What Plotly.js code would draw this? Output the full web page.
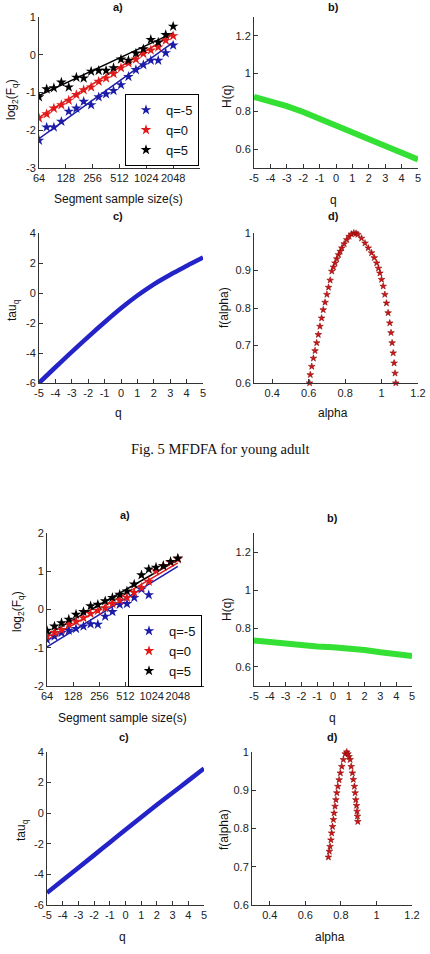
<!DOCTYPE html>
<html><head><meta charset="utf-8">
<script src="https://cdn.plot.ly/plotly-3.0.1.min.js"></script>
<style>html,body{margin:0;padding:0;background:#fff;}#chart{width:430px;height:954px;}</style>
</head><body><div id="chart"></div>
<script>
// ---------- data ----------
const segSizes = [64,78,94,114,138,168,203,246,299,362,439,532,645,782,948,1149,1393,1689,2048];
const segTickVals = [64,128,256,512,1024,2048];
const segTickText = ["64","128","256","512","1024","2048"];
const legendNames = ["q=-5","q=0","q=5"];
const qTickVals = [-5,-4,-3,-2,-1,0,1,2,3,4,5];
const qTickText = ["-5","-4","-3","-2","-1","0","1","2","3","4","5"];
const tauTickVals = [-6,-4,-2,0,2,4];
const tauTickText = ["-6","-4","-2","0","2","4"];
const logF1TickVals = [-3,-2,-1,0,1];
const logF1TickText = ["-3","-2","-1","0","1"];
const logF2TickVals = [-2,-1,0,1,2];
const logF2TickText = ["-2","-1","0","1","2"];

// Fig 5 (young adult) panel a: log2(Fq)
const a1_qm5 = [-2.27,-1.92,-1.92,-1.77,-1.50,-1.42,-1.24,-1.33,-1.12,-1.04,-0.95,-0.80,-0.58,-0.40,-0.27,-0.15,-0.15,0.05,0.25];
const a1_q0  = [-1.68,-1.57,-1.42,-1.33,-1.21,-1.06,-0.93,-0.86,-0.71,-0.62,-0.50,-0.35,-0.22,-0.12,0.03,0.12,0.20,0.38,0.50];
const a1_q5  = [-1.12,-0.91,-0.88,-0.73,-0.86,-0.60,-0.62,-0.44,-0.42,-0.42,-0.35,-0.12,-0.15,0.04,0.15,0.40,0.33,0.53,0.75];
const fitScale = [64,2048];
const a1_fit_qm5 = [-2.22,0.33];
const a1_fit_q0  = [-1.66,0.55];
const a1_fit_q5  = [-1.08,0.58];

// panel b: H(q)
const qVals = [-5,-4,-3,-2,-1,0,1,2,3,4,5];
const b1_H = [0.877,0.855,0.828,0.797,0.761,0.726,0.689,0.648,0.610,0.575,0.545];
// panel c: tau(q)
const c1_tau = [-6.0,-4.95,-3.92,-2.92,-1.95,-1.02,-0.17,0.58,1.22,1.80,2.36];
// panel d: f(alpha)
const d1_alpha = [0.605,0.609,0.617,0.626,0.635,0.644,0.653,0.662,0.671,0.680,0.690,0.700,0.709,0.718,0.727,0.736,0.745,0.754,0.764,0.773,0.782,0.795,0.809,0.822,0.835,0.848,0.860,0.870,0.890,0.909,0.927,0.945,0.960,0.973,0.983,0.991,1.000,1.009,1.018,1.027,1.036,1.045,1.052,1.058,1.064,1.069,1.074,1.078];
const d1_f     = [0.600,0.622,0.644,0.666,0.686,0.707,0.729,0.751,0.773,0.795,0.815,0.836,0.855,0.874,0.898,0.909,0.920,0.931,0.942,0.951,0.960,0.971,0.982,0.991,0.997,1.000,0.999,0.996,0.986,0.973,0.960,0.947,0.934,0.920,0.906,0.893,0.876,0.858,0.836,0.813,0.787,0.760,0.734,0.707,0.680,0.653,0.626,0.600];

// second figure panel a
const a2_qm5 = [-0.79,-0.70,-0.61,-0.55,-0.50,-0.44,-0.38,-0.39,-0.18,-0.06,0.13,0.15,0.31,0.53,0.38];
const a2_q0  = [-0.70,-0.61,-0.53,-0.39,-0.31,-0.22,-0.11,-0.03,0.04,0.15,0.24,0.31,0.44,0.57,0.73,1.01,1.14,1.23,1.32];
const a2_q5  = [-0.55,-0.44,-0.35,-0.26,-0.13,-0.06,0.09,0.13,0.22,0.31,0.39,0.48,0.66,0.90,1.05,1.10,1.14,1.25,1.34];
const a2_fit_qm5 = [-0.98,1.13];
const a2_fit_q0  = [-0.80,1.22];
const a2_fit_q5  = [-0.66,1.30];
const b2_H = [0.738,0.729,0.720,0.712,0.706,0.703,0.699,0.688,0.676,0.664,0.657];
const c2_tau = [-5.2,-4.38,-3.56,-2.74,-1.91,-1.08,-0.26,0.55,1.34,2.13,2.92];
const d2_alpha = [0.730,0.735,0.739,0.744,0.748,0.753,0.758,0.762,0.767,0.772,0.777,0.783,0.790,0.797,0.805,0.814,0.824,0.833,0.840,0.846,0.852,0.858,0.865,0.870,0.876,0.880,0.884,0.888,0.891,0.893,0.895];
const d2_f     = [0.725,0.740,0.753,0.770,0.788,0.805,0.823,0.840,0.858,0.875,0.893,0.910,0.927,0.945,0.962,0.980,0.995,1.000,0.995,0.988,0.980,0.962,0.945,0.928,0.910,0.893,0.875,0.860,0.845,0.832,0.818];

// ---------- layout helpers ----------
const W = 430, H = 954;
const dx = (a,b) => [a/W, b/W];
const dy = (t,b) => [1-b/H, 1-t/H];
const FONT = "Liberation Sans, Arial, sans-serif";
const BLUE = "#1c1ca8", RED = "#e01a1a", BLACK = "#000000";
const GREEN = "#33e033", TAUBLUE = "#2323c8", FRED = "#d21414";

function axisBase(extra){
  return Object.assign({
    showline:true, linecolor:"#333", linewidth:1, mirror:false,
    ticks:"inside", ticklen:4, tickcolor:"#333", tickwidth:1,
    showgrid:false, zeroline:false, fixedrange:true, tickangle:0,
    tickfont:{family:FONT, size:11, color:"#222"}
  }, extra);
}

const traces = [];
function fPanel(xa, ya, qm5, q0, q5, fm5, f0, f5, legendId){
  const sets = [[qm5,fm5,BLUE],[q0,f0,RED],[q5,f5,BLACK]];
  sets.forEach((s)=>{
    traces.push({x:fitScale, y:s[1], xaxis:xa, yaxis:ya, mode:"lines",
      line:{color:s[2], width:1.5}, showlegend:false, hoverinfo:"skip"});
  });
  sets.forEach((s,i)=>{
    traces.push({x:segSizes.slice(0,s[0].length), y:s[0], xaxis:xa, yaxis:ya, mode:"markers",
      name:legendNames[i], legend:legendId,
      marker:{symbol:"star", size:8, color:s[2], line:{width:0}}});
  });
}
fPanel("x","y",a1_qm5,a1_q0,a1_q5,a1_fit_qm5,a1_fit_q0,a1_fit_q5,"legend");
fPanel("x5","y5",a2_qm5,a2_q0,a2_q5,a2_fit_qm5,a2_fit_q0,a2_fit_q5,"legend2");

function hPanel(xa,ya,h){
  traces.push({x:qVals, y:h, xaxis:xa, yaxis:ya, mode:"lines",
    line:{color:GREEN, width:6, shape:"linear"}, showlegend:false});
}
hPanel("x2","y2",b1_H); hPanel("x6","y6",b2_H);
function tPanel(xa,ya,t){
  traces.push({x:qVals, y:t, xaxis:xa, yaxis:ya, mode:"lines",
    line:{color:TAUBLUE, width:4.5, shape:"spline"}, showlegend:false});
}
tPanel("x3","y3",c1_tau); tPanel("x7","y7",c2_tau);
function dPanel(xa,ya,a,f){
  traces.push({x:a, y:f, xaxis:xa, yaxis:ya, mode:"markers",
    marker:{symbol:"star", size:5, color:FRED, line:{width:0.6,color:"#8a0a0a"}}, showlegend:false, cliponaxis:false});
}
dPanel("x4","y4",d1_alpha,d1_f); dPanel("x8","y8",d2_alpha,d2_f);

const logR = [Math.log10(64), Math.log10(4096)];
const segAxis = (d) => axisBase({domain:d, type:"log", range:logR, tickvals:segTickVals, ticktext:segTickText});
const qAxis = (d) => axisBase({domain:d, range:[-5,5], tickvals:qTickVals, ticktext:qTickText});
const alphaAxis = (d) => axisBase({domain:d, range:[0.3,1.2], tick0:0, dtick:0.2});
const tauAxis = (d) => axisBase({domain:d, range:[-6,4], tickvals:tauTickVals, ticktext:tauTickText});

const legendStyle = (x,y) => ({x:x/W, y:1-y/H, xanchor:"left", yanchor:"top", bgcolor:"#fff",
    bordercolor:"#000", borderwidth:1, font:{family:FONT,size:13,color:"#111"}, tracegroupgap:0});

const layout = {
  width:W, height:H, margin:{l:0,r:0,t:0,b:0},
  paper_bgcolor:"#fff", plot_bgcolor:"#fff",
  font:{family:FONT, size:12, color:"#222"},
  xaxis: segAxis(dx(39,200)), yaxis: axisBase({domain:dy(17,168), range:[-3,1], tickvals:logF1TickVals, ticktext:logF1TickText}),
  xaxis2: qAxis(dx(254,418)), yaxis2: axisBase({domain:dy(17,168), range:[0.5,1.3], tick0:0, dtick:0.2}),
  xaxis3: qAxis(dx(39,203)), yaxis3: tauAxis(dy(233,383)),
  xaxis4: alphaAxis(dx(254,418)), yaxis4: axisBase({domain:dy(233,383), range:[0.6,1], tick0:0, dtick:0.1}),
  xaxis5: segAxis(dx(47,204)), yaxis5: axisBase({domain:dy(533,686), range:[-2,2], tickvals:logF2TickVals, ticktext:logF2TickText}),
  xaxis6: qAxis(dx(254,412)), yaxis6: axisBase({domain:dy(533,686), range:[0.5,1.3], tick0:0, dtick:0.2}),
  xaxis7: qAxis(dx(47,204)), yaxis7: tauAxis(dy(752,905)),
  xaxis8: alphaAxis(dx(252,412)), yaxis8: axisBase({domain:dy(752,905), range:[0.6,1], tick0:0, dtick:0.1}),
  legend: legendStyle(125,94),
  legend2: legendStyle(128,615),
  annotations:[]
};
for (let i=1;i<=8;i++){
  const s = i===1?"":String(i);
  layout["xaxis"+s].anchor = "y"+s;
  layout["yaxis"+s].anchor = "x"+s;
}

function ann(text, x, y, opts){
  layout.annotations.push(Object.assign({text:text, x:x/W, y:1-y/H, xref:"paper", yref:"paper",
    showarrow:false, xanchor:"center", yanchor:"middle",
    font:{family:FONT, size:12, color:"#111"}}, opts||{}));
}
const tFont = {family:FONT, size:11, color:"#111"};
[["a)",118,7],["b)",333,7],["c)",118,216],["d)",333,216],
 ["a)",125,515],["b)",332,518],["c)",124,737],["d)",332,737]].forEach(t=>ann("<b>"+t[0]+"</b>",t[1],t[2],{font:tFont}));
[["Segment sample size(s)",118,199],["q",333,200],["q",118,413],["alpha",333,413],
 ["Segment sample size(s)",123,718],["q",332,718],["q",123,937],["alpha",330,937]].forEach(t=>ann(t[0],t[1],t[2]));
const logLbl = "log<sub>2</sub>(F<sub>q</sub>)", tauLbl = "tau<sub>q</sub>";
[[logLbl,12,100],["H(q)",227,97],[tauLbl,13,310],["f(alpha)",224,308],
 [logLbl,18,612],["H(q)",227,610],[tauLbl,22,830],["f(alpha)",224,830]].forEach(t=>ann(t[0],t[1],t[2],{textangle:-90}));
ann("Fig. 5 MFDFA for young adult", 220, 449, {font:{family:"Liberation Serif, Times New Roman, serif", size:14.5, color:"#111"}});

Plotly.newPlot("chart", traces, layout, {displayModeBar:false, staticPlot:true});
</script></body></html>
